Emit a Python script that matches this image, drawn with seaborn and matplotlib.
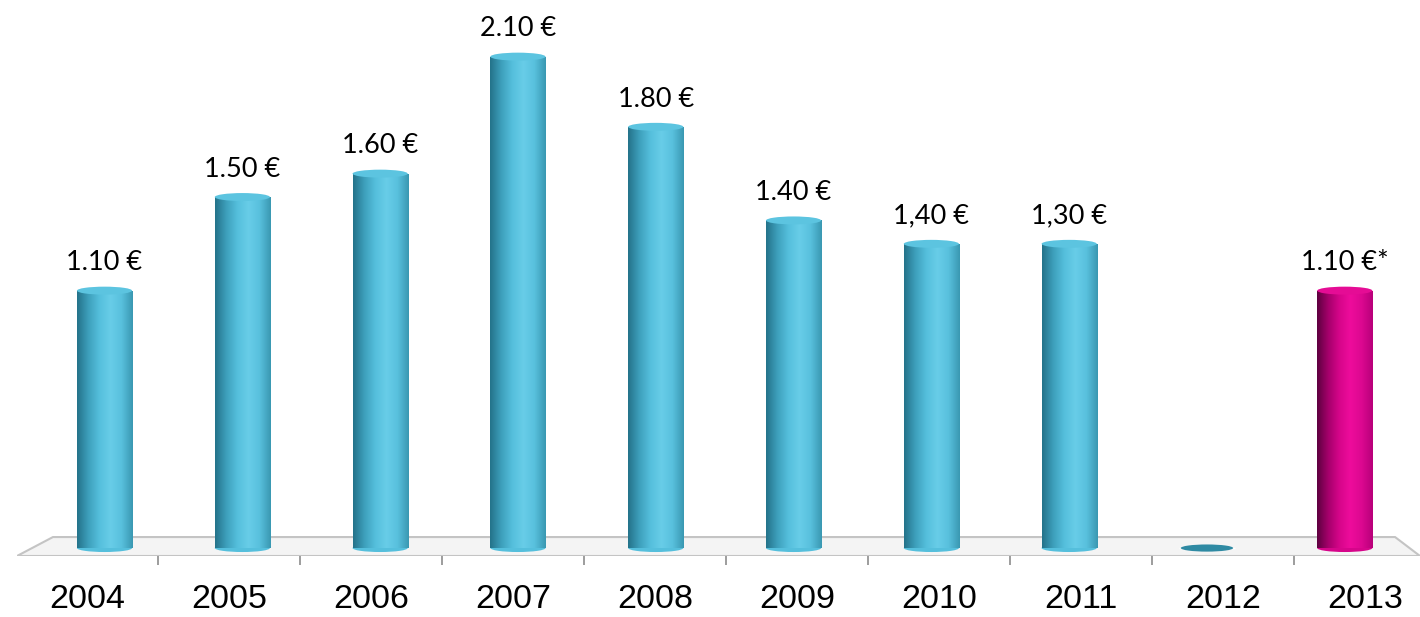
import matplotlib.pyplot as plt
import numpy as np
import seaborn as sns
from matplotlib.colors import LinearSegmentedColormap
from matplotlib.patches import Ellipse, Polygon

sns.set_style('white')

years = ['2004', '2005', '2006', '2007', '2008', '2009', '2010', '2011', '2012', '2013']
values = [1.10, 1.50, 1.60, 2.10, 1.80, 1.40, 1.30, 1.30, 0.0, 1.10]
labels = ['1.10 €', '1.50 €', '1.60 €', '2.10 €', '1.80 €', '1.40 €', '1,40 €', '1,30 €', '', '1.10 €*']
kinds = ['past'] * 9 + ['forecast']

colors = {'past': '#4fb8d6', 'forecast': '#e0088f'}
gradients = {
    'past': ['#24738a', '#3d9fbb', '#55bfdc', '#68cde8', '#58c0dd', '#3a98b2'],
    'forecast': ['#5e0040', '#a5006b', '#d6058a', '#ee0c9c', '#dc0890', '#b8007a'],
}
caps = {'past': '#5cc4e0', 'forecast': '#e50c95'}

fig = plt.figure(figsize=(14.2, 6.17), dpi=100)
ax = fig.add_axes([17 / 1420, 61 / 617, 1403 / 1420, 556 / 617])

sns.barplot(x=years, y=values, hue=years, palette=[colors[k] for k in kinds],
            width=0.4, legend=False, ax=ax, zorder=3)

xlim = (-0.635, 9.546)
ylim = (-0.034, 2.342)
cap_h = 0.034

# floor of the 3d chart
floor = Polygon([[xlim[0], ylim[0]], [xlim[1], ylim[0]], [9.365, 0.047], [-0.374, 0.047]],
                closed=True, facecolor='#f4f4f4', edgecolor='#c4c4c4', lw=1.5, zorder=1)
ax.add_patch(floor)

# cylinder look: gradient clipped to each bar + caps
for patch, kind, v in zip(ax.patches[:len(values)], kinds, values):
    x0 = patch.get_x()
    w = patch.get_width()
    cmap = LinearSegmentedColormap.from_list(kind, gradients[kind])
    grad = np.linspace(0, 1, 200).reshape(1, -1)
    if v > 0:
        bottom = Ellipse((x0 + w / 2, 0), w, cap_h, facecolor=gradients[kind][2],
                         edgecolor='none', zorder=2.9)
        ax.add_patch(bottom)
        im = ax.imshow(grad, extent=[x0, x0 + w, 0, v], aspect='auto', cmap=cmap, zorder=3.1)
        im.set_clip_path(patch)
        patch.set_facecolor('none')
        patch.set_edgecolor('none')
        top = Ellipse((x0 + w / 2, v), w, cap_h, facecolor=caps[kind], edgecolor='none', zorder=3.2)
        ax.add_patch(top)
    else:
        flat = Ellipse((x0 + w / 2, v), w * 0.95, cap_h * 0.9, facecolor='#2f8aa3',
                       edgecolor='none', zorder=3.2)
        ax.add_patch(flat)

for i, (v, lab) in enumerate(zip(values, labels)):
    if lab:
        ax.annotate(lab, (i, v), xytext=(0, 20), textcoords='offset points',
                    ha='center', va='center', fontsize=19.5, family='Lato', color='black')

ax.set_xlim(*xlim)
ax.set_ylim(*ylim)
ax.set_xticks([])
ax.set_yticks([])
ax.set_xlabel('')
ax.set_ylabel('')
for s in ax.spines.values():
    s.set_visible(False)

# category axis below the floor (front row of the perspective)
def fwd(i):
    return (17.5 + 137.8 * np.asarray(i)) / 142.0

def inv(j):
    return (142.0 * np.asarray(j) - 17.5) / 137.8

sec = ax.secondary_xaxis('bottom', functions=(fwd, inv))
sec.spines['bottom'].set_visible(False)
sec.set_xticks(np.arange(len(years) + 1) - 0.5)
sec.set_xticklabels([])
sec.set_xticks(np.arange(len(years)), minor=True)
sec.set_xticklabels(years, minor=True, fontsize=24.5, family='Liberation Sans', color='black')
sec.tick_params(axis='x', which='major', length=6.5, width=1.2, color='#8c8c8c', direction='out')
sec.tick_params(axis='x', which='minor', length=0, pad=20, labelcolor='black')

fig.savefig('out.png', dpi=100)
